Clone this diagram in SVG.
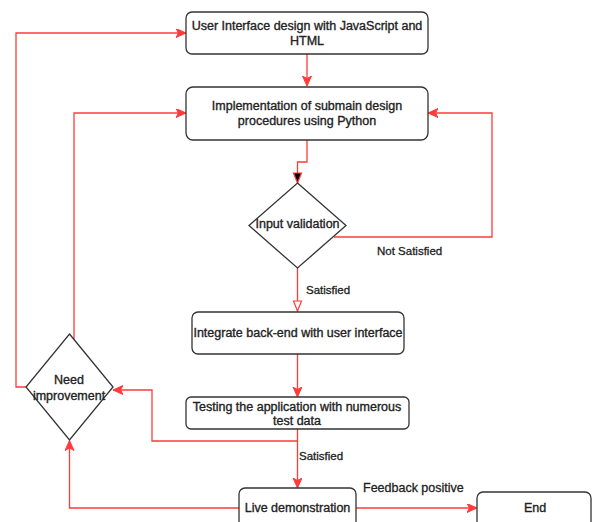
<svg xmlns="http://www.w3.org/2000/svg" width="592" height="522" viewBox="0 0 592 522">
<style>
.box{fill:#fff;stroke:#333;stroke-width:1.3}
.t{font-family:"Liberation Sans",Arial,sans-serif;font-size:12.5px;fill:#222;stroke:#222;stroke-width:0.35;text-anchor:middle}
.lbl{font-family:"Liberation Sans",Arial,sans-serif;font-size:11.5px;fill:#222;stroke:#222;stroke-width:0.3}
.c{fill:none;stroke:#ff3b3b;stroke-width:1.3}
</style>
<defs>
<marker id="a" markerUnits="userSpaceOnUse" markerWidth="12" markerHeight="10" refX="10" refY="4.5" orient="auto"><path d="M0,0 L10,4.5 L0,9 L2.5,4.5 Z" fill="#ff3b3b" stroke="#ff3b3b"/></marker>
<marker id="o" markerUnits="userSpaceOnUse" markerWidth="12" markerHeight="12" refX="11" refY="5" orient="auto"><path d="M1,1 L11,5 L1,9 Z" fill="#fff" stroke="#ff3b3b" stroke-width="1.2"/></marker>
<marker id="b" markerUnits="userSpaceOnUse" markerWidth="12" markerHeight="12" refX="11" refY="5" orient="auto"><path d="M1,1 L11,5 L1,9 Z" fill="#000" stroke="#ff3b3b" stroke-width="1.2"/></marker>
</defs>
<g id="connectors">
<path class="c" d="M307,54 V86" marker-end="url(#a)"/>
<path class="c" d="M307,140 V162 H297.5 V183" marker-end="url(#b)"/>
<path class="c" d="M334,237 H492 V113 H428" marker-end="url(#a)"/>
<path class="c" d="M297.5,268 V311" marker-end="url(#o)"/>
<path class="c" d="M297.5,354 V397" marker-end="url(#a)"/>
<path class="c" d="M297.5,429 V488" marker-end="url(#a)"/>
<path class="c" d="M297.5,441 H152 V390 H113" marker-end="url(#a)"/>
<path class="c" d="M26,387 H16 V33 H186" marker-end="url(#a)"/>
<path class="c" d="M74,339.5 V113 H186" marker-end="url(#a)"/>
<path class="c" d="M239,508 H69.5 V440.5" marker-end="url(#a)"/>
<path class="c" d="M356,508 H477" marker-end="url(#a)"/>
<text class="lbl" x="377" y="255">Not Satisfied</text>
<text class="lbl" x="306" y="294">Satisfied</text>
<text class="lbl" x="299" y="460">Satisfied</text>
<text class="lbl" x="363" y="492" style="font-size:12.5px">Feedback positive</text>
</g>
<g id="ui">
<rect class="box" x="186" y="12" width="242" height="42" rx="6"/>
<text class="t" x="307" y="29.5">User Interface design with JavaScript and</text>
<text class="t" x="307" y="45">HTML</text>
</g>
<g id="impl">
<rect class="box" x="186" y="87" width="242" height="53" rx="7"/>
<text class="t" x="307" y="109.5">Implementation of submain design</text>
<text class="t" x="307" y="125">procedures using Python</text>
</g>
<g id="validation">
<path class="box" d="M297.5,183 L346,225.5 L297.5,268 L249,225.5 Z"/>
<text class="t" x="297.5" y="228">Input validation</text>
</g>
<g id="integrate">
<rect class="box" x="192" y="312" width="212" height="42" rx="6"/>
<text class="t" x="298" y="337">Integrate back-end with user interface</text>
</g>
<g id="testing">
<rect class="box" x="186" y="397" width="223" height="32" rx="5"/>
<text class="t" x="297" y="410.5">Testing the application with numerous</text>
<text class="t" x="297" y="425">test data</text>
</g>
<g id="need">
<path class="box" d="M69.5,334 L113,387 L69.5,440 L26,387 Z"/>
<text class="t" x="69" y="383.5">Need</text>
<text class="t" x="69" y="399.5">improvement</text>
</g>
<g id="live">
<rect class="box" x="239" y="488" width="117" height="40" rx="6"/>
<text class="t" x="297.5" y="512">Live demonstration</text>
</g>
<g id="end">
<rect class="box" x="477" y="492" width="114" height="36" rx="6"/>
<text class="t" x="535" y="512">End</text>
</g>
</svg>
